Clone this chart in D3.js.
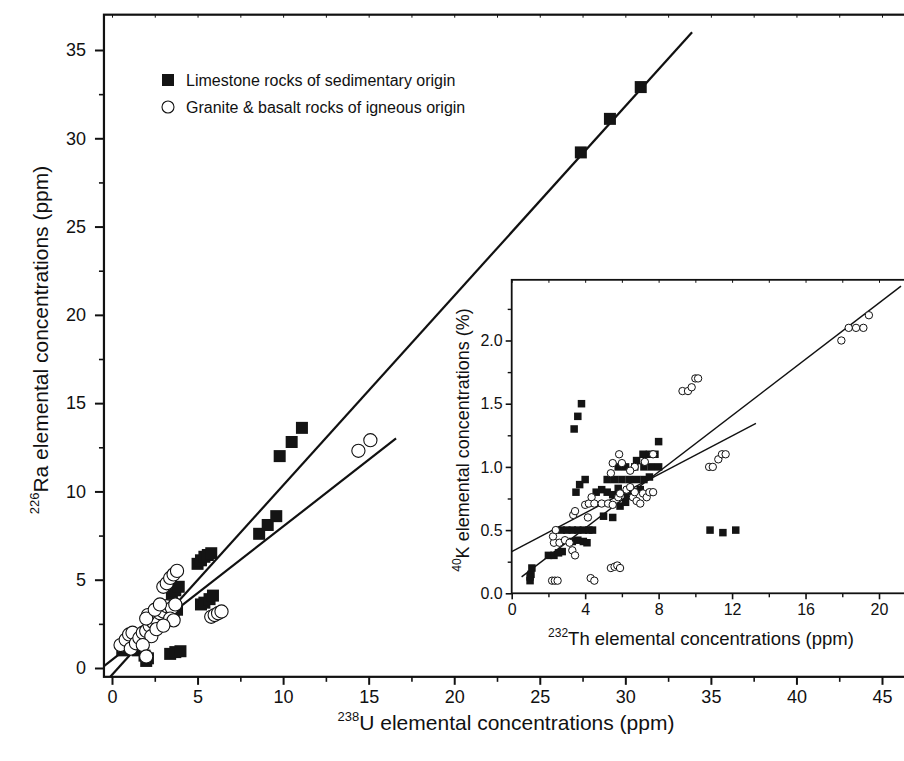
<!DOCTYPE html>
<html lang="en">
<head>
<meta charset="UTF-8">
<title>Ra vs U, K vs Th</title>
<style>
  body { margin: 0; background: #fff; }
  svg { display: block; font-family: Arial, "Liberation Sans", sans-serif; }
  .axis path, .axis line { stroke: #111; }
  .axis text { fill: #111; }
</style>
</head>
<body>
<svg width="904" height="761"></svg>
<script src="https://d3js.org/d3.v7.min.js"></script>
<script>
// ---- main plot data: 238U (ppm) vs 226Ra (ppm)
const limestoneMain = [
  [0.6,1.0],[0.9,1.3],[1.1,1.6],[1.3,1.9],[1.5,1.0],[1.9,0.7],[2.0,0.4],[2.1,0.55],
  [3.4,0.8],[3.7,0.9],[4.0,0.95],[3.5,4.2],[3.7,4.4],[3.9,4.6],[3.6,3.0],[3.8,3.3],
  [5.2,3.6],[5.4,3.7],[5.7,3.9],[5.9,4.1],[5.0,5.9],[5.2,6.1],[5.4,6.3],[5.6,6.4],[5.8,6.5],
  [8.6,7.6],[9.1,8.1],[9.6,8.6],[9.8,12.0],[10.5,12.8],[11.1,13.6],
  [27.4,29.2],[29.1,31.1],[30.9,32.9]
];
const igneousMain = [
  [0.5,1.3],[0.8,1.6],[1.0,1.9],[1.2,2.0],[1.1,1.1],[1.4,1.4],[1.6,1.7],[1.8,2.0],
  [2.0,2.1],[2.2,2.4],[2.4,2.6],[2.6,2.8],[2.8,3.1],[3.0,3.2],[3.2,3.5],[3.5,3.4],
  [3.7,3.6],[2.1,3.0],[2.0,2.8],[2.5,3.3],[2.8,3.6],[3.4,2.8],[3.6,2.7],[2.3,1.8],
  [2.6,2.2],[3.0,2.4],[1.8,1.3],[2.0,0.65],[3.0,4.6],[3.2,4.8],[3.4,5.1],[3.6,5.3],
  [3.8,5.5],[5.8,2.9],[6.0,3.0],[6.2,3.1],[6.4,3.2],[14.4,12.3],[15.1,12.9]
];
// fitted lines (endpoints)
const fitMain = [
  [[-0.1,-0.5],[33.9,36.0]],
  [[-0.47,0.1],[16.6,13.0]]
];
const xTicksMain = [0,5,10,15,20,25,30,35,40,45];
const yTicksMain = [0,5,10,15,20,25,30,35];

// ---- inset data: 232Th (ppm) vs 40K (%)
const limestoneInset = [
  [1.0,0.1],[1.05,0.15],[1.1,0.2],[1.0,0.13],
  [2.0,0.3],[2.3,0.3],[2.55,0.32],[2.75,0.33],
  [2.7,0.5],[3.0,0.5],[3.3,0.5],[3.6,0.5],[3.9,0.5],[4.2,0.5],[4.4,0.5],
  [3.3,0.41],[3.6,0.42],[3.9,0.41],[4.1,0.4],
  [3.4,1.3],[3.6,1.4],[3.8,1.5],
  [3.5,0.8],[3.7,0.86],[4.0,0.9],
  [4.6,0.8],[4.9,0.82],[5.2,0.8],[5.5,0.78],[5.8,0.83],
  [5.0,0.61],[5.5,0.6],[5.9,0.69],[6.2,0.72],
  [5.2,0.9],[5.6,0.9],[6.0,0.9],[6.4,0.9],[6.8,0.9],[7.2,0.9],[7.5,0.92],
  [5.8,1.0],[6.2,1.0],[6.7,1.0],[7.2,1.0],[7.6,1.0],[8.0,1.0],
  [6.8,1.05],[7.15,1.1],[7.5,1.1],[7.8,1.1],[8.0,1.2],
  [6.3,0.77],[6.6,0.8],[7.0,0.82],
  [10.8,0.5],[11.5,0.48],[12.2,0.5]
];
const igneousInset = [
  [2.2,0.1],[2.35,0.1],[2.5,0.1],[4.3,0.12],[4.5,0.1],
  [5.4,0.2],[5.6,0.21],[5.75,0.22],[5.9,0.2],
  [2.3,0.4],[2.6,0.4],[2.25,0.45],[2.4,0.5],[2.9,0.42],[3.15,0.4],[3.3,0.34],[3.45,0.3],
  [3.35,0.62],[3.45,0.65],[4.0,0.7],[4.2,0.71],[4.15,0.6],[4.35,0.76],[4.5,0.71],
  [4.9,0.71],[5.25,0.71],[5.5,0.7],[5.8,0.76],[5.9,0.79],[5.4,0.95],[5.5,1.03],[5.85,1.1],
  [6.6,0.76],[6.8,0.73],[7.0,0.71],[6.7,0.8],[7.15,0.79],[7.35,0.76],[7.5,0.8],[7.7,0.8],
  [6.25,0.82],[6.45,0.84],[6.7,1.0],[7.25,1.04],[7.7,1.1],[6.0,1.03],[6.45,0.97],
  [9.3,1.6],[9.6,1.6],[9.8,1.63],[10.0,1.7],[10.15,1.7],
  [10.75,1.0],[10.95,1.0],[11.25,1.06],[11.45,1.1],[11.65,1.1],
  [17.95,2.0],[18.35,2.1],[18.75,2.1],[19.15,2.1],[19.45,2.2]
];
const fitInset = [
  [[0,0.33],[13.3,1.345]],
  [[0.54,0.13],[21.2,2.43]]
];
const xTicksInset = [0,4,8,12,16,20];
const yTicksInset = [0,0.5,1.0,1.5,2.0];

const legendItems = ["Limestone rocks of sedimentary origin", "Granite & basalt rocks of igneous origin"];

const svg = d3.select("svg");

// ===== main plot =====
const x = d3.scaleLinear().domain([0, 45]).range([112, 882]);
const y = d3.scaleLinear().domain([0, 35]).range([668, 50]);
const xMin = -0.47, xMax = 48, yMin = -0.5, yMax = 37;

const main = svg.append("g");

// frame
main.append("rect")
  .attr("x", x(xMin)).attr("y", y(yMax))
  .attr("width", x(xMax) - x(xMin)).attr("height", y(yMin) - y(yMax))
  .attr("fill", "none").attr("stroke", "#111").attr("stroke-width", 2.2);

const minorX = d3.range(2.5, 47, 5);
const minorY = d3.range(2.5, 36, 5);

// bottom axis
main.append("g").attr("class", "axis")
  .attr("transform", `translate(0,${y(yMin)})`)
  .call(d3.axisBottom(x).tickValues(xTicksMain).tickSize(8).tickPadding(5))
  .call(g => g.select(".domain").remove())
  .call(g => g.selectAll("line").attr("stroke-width", 2))
  .call(g => g.selectAll("text").attr("font-size", 18));
main.append("g").attr("class", "axis")
  .attr("transform", `translate(0,${y(yMin)})`)
  .call(d3.axisBottom(x).tickValues(minorX).tickSize(5).tickFormat(""))
  .call(g => g.select(".domain").remove())
  .call(g => g.selectAll("line").attr("stroke-width", 1.6));
// top inner ticks
main.append("g").attr("class", "axis")
  .attr("transform", `translate(0,${y(yMax)})`)
  .call(d3.axisTop(x).tickValues(d3.range(0, 47.6, 2.5)).tickSize(-3).tickFormat(""))
  .call(g => g.select(".domain").remove());

// left axis
main.append("g").attr("class", "axis")
  .attr("transform", `translate(${x(xMin)},0)`)
  .call(d3.axisLeft(y).tickValues(yTicksMain).tickSize(9).tickPadding(9))
  .call(g => g.select(".domain").remove())
  .call(g => g.selectAll("line").attr("stroke-width", 2))
  .call(g => g.selectAll("text").attr("font-size", 18));
main.append("g").attr("class", "axis")
  .attr("transform", `translate(${x(xMin)},0)`)
  .call(d3.axisLeft(y).tickValues(minorY).tickSize(5).tickFormat(""))
  .call(g => g.select(".domain").remove())
  .call(g => g.selectAll("line").attr("stroke-width", 1.6));

// axis titles
const xt = main.append("text")
  .attr("x", 506).attr("y", 730)
  .attr("text-anchor", "middle").attr("font-size", 21).attr("fill", "#111");
xt.append("tspan").attr("font-size", 13).attr("dy", -9).text("238");
xt.append("tspan").attr("dy", 9).text("U elemental concentrations (ppm)");

const yt = main.append("text")
  .attr("transform", `translate(48,${340}) rotate(-90)`)
  .attr("text-anchor", "middle").attr("font-size", 21).attr("fill", "#111");
yt.append("tspan").attr("font-size", 13).attr("dy", -9).text("226");
yt.append("tspan").attr("dy", 9).text("Ra elemental concentrations (ppm)");

// fit lines
const line = d3.line().x(d => x(d[0])).y(d => y(d[1]));
main.selectAll(".fit")
  .data(fitMain)
  .join("path")
  .attr("class", "fit")
  .attr("d", line)
  .attr("fill", "none").attr("stroke", "#111").attr("stroke-width", 2.2);

// points
const sqMain = 12, rMain = 6.6;
main.selectAll(".lsm")
  .data(limestoneMain)
  .join("rect")
  .attr("class", "lsm")
  .attr("x", d => x(d[0]) - sqMain / 2).attr("y", d => y(d[1]) - sqMain / 2)
  .attr("width", sqMain).attr("height", sqMain)
  .attr("fill", "#141414");
main.selectAll(".igm")
  .data(igneousMain)
  .join("circle")
  .attr("class", "igm")
  .attr("cx", d => x(d[0])).attr("cy", d => y(d[1])).attr("r", rMain)
  .attr("fill", "#fff").attr("stroke", "#111").attr("stroke-width", 1.1);

// legend
const leg = main.append("g").attr("transform", "translate(168,80)");
leg.append("rect").attr("x", -6).attr("y", -6).attr("width", 12).attr("height", 12).attr("fill", "#141414");
leg.append("circle").attr("cx", 0).attr("cy", 27).attr("r", 6).attr("fill", "#fff").attr("stroke", "#111").attr("stroke-width", 1.1);
leg.selectAll("text")
  .data(legendItems)
  .join("text")
  .attr("x", 18).attr("y", (d, i) => i * 27 + 6)
  .attr("font-size", 16).attr("fill", "#111")
  .text(d => d);

// ===== inset =====
const xi = d3.scaleLinear().domain([0, 20]).range([511.7, 879]);
const yi = d3.scaleLinear().domain([0, 2]).range([593.3, 340.5]);
const xiMax = 22.5, yiMax = 2.48;

const inset = svg.append("g");

inset.append("rect")
  .attr("x", xi(0)).attr("y", yi(yiMax))
  .attr("width", xi(xiMax) - xi(0)).attr("height", yi(0) - yi(yiMax))
  .attr("fill", "#fff").attr("stroke", "#111").attr("stroke-width", 1.8);

inset.append("g").attr("class", "axis")
  .attr("transform", `translate(0,${yi(0)})`)
  .call(d3.axisBottom(xi).tickValues(xTicksInset).tickSize(6).tickPadding(4))
  .call(g => g.select(".domain").remove())
  .call(g => g.selectAll("line").attr("stroke-width", 1.6))
  .call(g => g.selectAll("text").attr("font-size", 16));
inset.append("g").attr("class", "axis")
  .attr("transform", `translate(0,${yi(0)})`)
  .call(d3.axisBottom(xi).tickValues(d3.range(2, 22, 4)).tickSize(4).tickFormat(""))
  .call(g => g.select(".domain").remove())
  .call(g => g.selectAll("line").attr("stroke-width", 1.4));
inset.append("g").attr("class", "axis")
  .attr("transform", `translate(0,${yi(yiMax)})`)
  .call(d3.axisTop(xi).tickValues(d3.range(0, 22.5, 2)).tickSize(-3).tickFormat(""))
  .call(g => g.select(".domain").remove());

inset.append("g").attr("class", "axis")
  .attr("transform", `translate(${xi(0)},0)`)
  .call(d3.axisLeft(yi).tickValues(yTicksInset).tickSize(6).tickPadding(3).tickFormat(d3.format(".1f")))
  .call(g => g.select(".domain").remove())
  .call(g => g.selectAll("line").attr("stroke-width", 1.6))
  .call(g => g.selectAll("text").attr("font-size", 16));
inset.append("g").attr("class", "axis")
  .attr("transform", `translate(${xi(0)},0)`)
  .call(d3.axisLeft(yi).tickValues(d3.range(0.25, 2.4, 0.5)).tickSize(4).tickFormat(""))
  .call(g => g.select(".domain").remove())
  .call(g => g.selectAll("line").attr("stroke-width", 1.4));

const xit = inset.append("text")
  .attr("x", 701).attr("y", 645)
  .attr("text-anchor", "middle").attr("font-size", 18.5).attr("fill", "#111");
xit.append("tspan").attr("font-size", 12).attr("dy", -8).text("232");
xit.append("tspan").attr("dy", 8).text("Th elemental concentrations (ppm)");

const yit = inset.append("text")
  .attr("transform", `translate(469,${440}) rotate(-90)`)
  .attr("text-anchor", "middle").attr("font-size", 18).attr("fill", "#111");
yit.append("tspan").attr("font-size", 12).attr("dy", -8).text("40");
yit.append("tspan").attr("dy", 8).text("K elemental concentrations (%)");

const lineI = d3.line().x(d => xi(d[0])).y(d => yi(d[1]));
inset.selectAll(".fiti")
  .data(fitInset)
  .join("path")
  .attr("class", "fiti")
  .attr("d", lineI)
  .attr("fill", "none").attr("stroke", "#111").attr("stroke-width", 1.4);

const sqIn = 7.5, rIn = 3.7;
inset.selectAll(".lsi")
  .data(limestoneInset)
  .join("rect")
  .attr("class", "lsi")
  .attr("x", d => xi(d[0]) - sqIn / 2).attr("y", d => yi(d[1]) - sqIn / 2)
  .attr("width", sqIn).attr("height", sqIn)
  .attr("fill", "#141414");
inset.selectAll(".igi")
  .data(igneousInset)
  .join("circle")
  .attr("class", "igi")
  .attr("cx", d => xi(d[0])).attr("cy", d => yi(d[1])).attr("r", rIn)
  .attr("fill", "#fff").attr("stroke", "#111").attr("stroke-width", 1);
</script>
</body>
</html>
